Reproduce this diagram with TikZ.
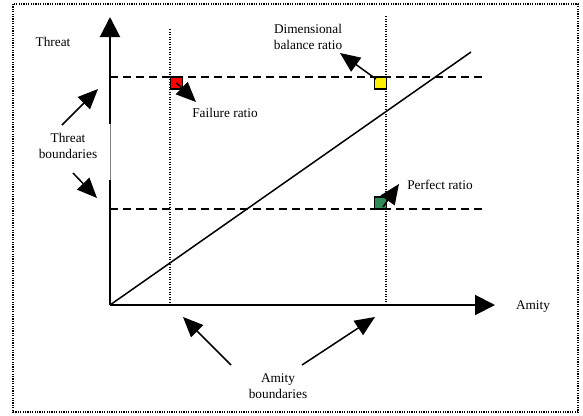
\documentclass[tikz,border=0pt]{standalone}
\usepackage{fontspec}
\setmainfont{Liberation Serif}
\usetikzlibrary{arrows.meta}
\begin{document}
\begin{tikzpicture}[x=1pt,y=-1pt,
  lbl/.style={font=\fontsize{13.3}{15.5}\selectfont, inner sep=0pt, align=center},
  axisline/.style={line width=2pt},
  axisarrow/.style={line width=2pt, -{Triangle[length=20pt,width=20pt]}},
  callout/.style={line width=1.5pt, -{Triangle[length=20pt,width=17pt]}},
  bound/.style={line width=1.5pt, dash pattern=on 8pt off 5pt},
  guide/.style={line width=1.3pt, dash pattern=on 1.2pt off 1.3pt},
  ratio/.style={draw, line width=1.2pt, minimum size=12pt, inner sep=0pt}]
\useasboundingbox (0,0) rectangle (583,415);
\draw[line width=1.2pt, dash pattern=on 1.2pt off 1.2pt] (13,4) rectangle (578,412);

% axes
\coordinate (O) at (110,305);
\coordinate (gapLow) at (110,180);
\coordinate (gapHigh) at (110,124);
\coordinate (ytop) at (110,17);
\coordinate (xend) at (495,305);
\draw[axisline] (O) -- (gapLow);
\draw[line width=0.6pt, gray] (gapLow) -- (gapHigh);
\draw[axisarrow] (gapHigh) -- (ytop);
\draw[axisarrow] (O) -- (xend);

% boundaries
\coordinate (tb1a) at (110,77);  \coordinate (tb1b) at (482,77);
\coordinate (tb2a) at (110,209); \coordinate (tb2b) at (482,209);
\draw[bound] (tb1a) -- (tb1b);
\draw[bound] (tb2a) -- (tb2b);
\coordinate (ab1a) at (170,29);  \coordinate (ab1b) at (170,305);
\coordinate (ab2a) at (386,16);  \coordinate (ab2b) at (386,305);
\draw[guide] (ab1a) -- (ab1b);
\draw[guide] (ab2a) -- (ab2b);

% diagonal
\coordinate (dend) at (471,52);
\draw[line width=1.5pt] (O) -- (dend);

% ratio squares
\node[ratio, fill=red] (red) at (176.5,83) {};
\node[ratio, fill=yellow] (yel) at (380.5,83) {};
\node[ratio, fill={rgb,255:red,46;green,139;blue,87}] (grn) at (380.5,203) {};

% labels
\node[lbl] (threat) at (53,42) {Threat};
\node[lbl] (amity) at (533,307) {Amity};
\node[lbl] (fail) at (225,113) {Failure ratio};
\node[lbl] (dim) at (308,37) {Dimensional\\balance ratio};
\node[lbl] (perf) at (440,185) {Perfect ratio};
\node[lbl] (tbl) at (68,146) {Threat\\boundaries};
\node[lbl] (abl) at (278,386) {Amity\\boundaries};

% callouts
\coordinate (failtip) at (196,102);
\coordinate (dimtip) at (340,53);
\coordinate (perftip) at (399,184);
\coordinate (dimstart) at (376,79);
\coordinate (perfstart) at (383,207);
\draw[callout] (red.center) -- (failtip);
\draw[callout] (dimstart) -- (dimtip);
\draw[callout] (perfstart) -- (perftip);

\coordinate (tbs1) at (62,125); \coordinate (tbt1) at (98,89);
\coordinate (tbs2) at (73,173); \coordinate (tbt2) at (97,198);
\draw[callout] (tbs1) -- (tbt1);
\draw[callout] (tbs2) -- (tbt2);

\coordinate (abs1) at (231,365); \coordinate (abt1) at (183,317);
\coordinate (abs2) at (302,365); \coordinate (abt2) at (375,317);
\draw[callout] (abs1) -- (abt1);
\draw[callout] (abs2) -- (abt2);
\end{tikzpicture}
\end{document}
